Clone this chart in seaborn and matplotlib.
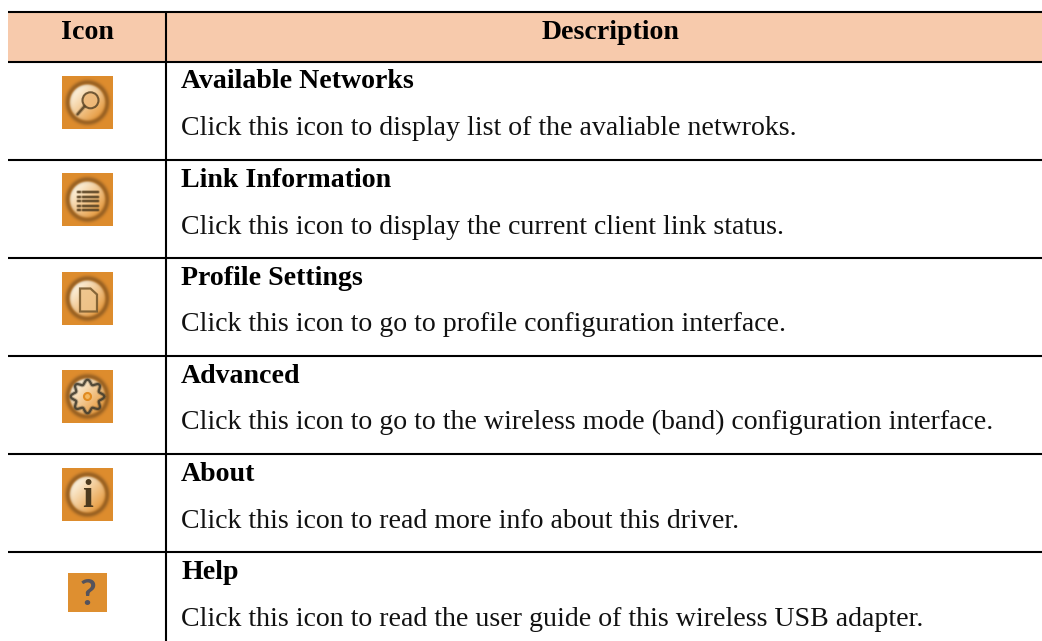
import numpy as np
import seaborn as sns
import matplotlib.pyplot as plt
from matplotlib.patches import Circle, Rectangle, Polygon

# Table content
HEADERS = ['Icon', 'Description']
TITLES = ['Available Networks', 'Link Information', 'Profile Settings',
          'Advanced', 'About', 'Help']
DESCRIPTIONS = [
    'Click this icon to display list of the avaliable netwroks.',
    'Click this icon to display the current client link status.',
    'Click this icon to go to profile configuration interface.',
    'Click this icon to go to the wireless mode (band) configuration interface.',
    'Click this icon to read more info about this driver.',
    'Click this icon to read the user guide of this wireless USB adapter.',
]
ICON_KINDS = ['search', 'list', 'page', 'gear', 'info', 'help']

# Layout in pixels of the page
ROW_EDGES = [12, 61.5, 160, 257.7, 355.7, 454, 552, 641]
ICON_CENTRES = [(87.5, 102.3), (87.5, 200), (87.5, 298.5), (87.5, 396.5), (87.5, 494.5), (87.5, 592.3)]
LEFT, SPLIT, RIGHT = 8, 166, 1042
HEADER_X = [87, 611]
ORANGE = np.array([0.87, 0.55, 0.18])
HEADER_FILL = '#f7caac'
DARK = '#5b4526'
FONT_SIZE = 20.1

sns.set_theme(style='white')
plt.rcParams['font.family'] = ['Liberation Serif', 'DejaVu Serif']

fig = plt.figure(figsize=(10.42, 6.41), dpi=100)
ax = fig.add_axes([0, 0, 1, 1])
ax.set_xlim(0, 1042)
ax.set_ylim(641, 0)
ax.axis('off')


def soft_line(xs, ys, width=1.6, color=DARK):
    # wide faint pass under a narrow one, the icons are blurry in the scan
    ax.plot(xs, ys, color=color, lw=width * 1.9, alpha=0.3, zorder=6, solid_capstyle='round')
    ax.plot(xs, ys, color=color, lw=width, alpha=0.85, zorder=6, solid_capstyle='round')


def draw_badge(cx, cy):
    yy, xx = np.mgrid[-26:26:105j, -25.5:25.5:103j]
    r = np.hypot(xx, yy)
    # cream on the upper left, orange to the lower right
    shade = np.clip((xx + yy + 24) / 48, 0, 1)[..., None]
    face = np.array([0.99, 0.95, 0.87]) + (np.array([0.91, 0.62, 0.27]) - np.array([0.99, 0.95, 0.87])) * shade
    inside = np.clip((19 - r) / 2, 0, 1)[..., None]
    ring = 0.7 * np.exp(-((r - 20) / 2.6) ** 2)[..., None]
    img = ORANGE * (1 - inside) + face * inside
    img = img * (1 - ring) + np.array([0.50, 0.32, 0.12]) * ring
    ax.imshow(img, extent=(cx - 25.5, cx + 25.5, cy + 26.5, cy - 26.5), zorder=3,
              aspect='auto', interpolation='bilinear')


def draw_icon(kind, cx, cy):
    if kind == 'help':
        ax.add_patch(Rectangle((cx - 19.5, cy - 19.5), 39, 39, color='#de8f30', lw=0, zorder=3))
        ax.text(cx, cy + 13, '?', color='#55535c', fontsize=26, fontweight='bold',
                family='Lato', ha='center', va='baseline', zorder=6)
        return
    draw_badge(cx, cy)
    if kind == 'search':
        ax.add_patch(Circle((cx + 3, cy - 2), 8, fc='#eeb878', ec=DARK, lw=1.5, alpha=0.85, zorder=6))
        soft_line([cx - 3, cx - 10], [cy + 4, cy + 12])
    elif kind == 'list':
        for offset in [-8, -3.5, 1, 5.5, 10]:
            soft_line([cx - 10, cx - 8], [cy + offset, cy + offset], 1.5)
            soft_line([cx - 5, cx + 10], [cy + offset, cy + offset], 1.5)
    elif kind == 'page':
        corners = [(-7.5, -10), (3, -10), (9.5, -4), (9.5, 13), (-7.5, 13)]
        ax.add_patch(Polygon([(cx + a, cy + b) for a, b in corners], fc='#eec48a', ec='#7a5c30',
                             lw=1.6, alpha=0.9, zorder=6))
    elif kind == 'gear':
        angles = np.linspace(0, 2 * np.pi, 145)
        radius = 14.5 + 2.2 * np.cos(8 * angles)
        soft_line(cx + radius * np.cos(angles), cy + radius * np.sin(angles), 1.6, '#3f3a2c')
        ax.add_patch(Circle((cx, cy), 3.5, fc='#f4b860', ec='#e08a20', lw=1.5, zorder=6))
    elif kind == 'info':
        ax.text(cx, cy + 12.5, 'i', color='#4c3a1e', fontsize=28, fontweight='bold',
                ha='center', va='baseline', zorder=6)


# Header band
ax.add_patch(Rectangle((LEFT, ROW_EDGES[0]), RIGHT - LEFT, ROW_EDGES[1] - ROW_EDGES[0],
                       color=HEADER_FILL, lw=0, zorder=1))
for label, x in zip(HEADERS, HEADER_X):
    ax.text(x, 39, label, fontsize=FONT_SIZE, fontweight='bold', ha='center', va='baseline', color='black')

# Rules
for edge in ROW_EDGES[:-1]:
    ax.plot([LEFT, RIGHT], [edge, edge], color='black', lw=1.5, solid_capstyle='butt', zorder=2)
ax.plot([SPLIT, SPLIT], [ROW_EDGES[0], ROW_EDGES[-1]], color='black', lw=1.5, solid_capstyle='butt', zorder=2)

# Rows
for i, (title, text) in enumerate(zip(TITLES, DESCRIPTIONS)):
    top = ROW_EDGES[i + 1]
    ax.text(181, top + 27, title, fontsize=FONT_SIZE, fontweight='bold', va='baseline', color='black')
    ax.text(181, top + 73.5, text, fontsize=FONT_SIZE, va='baseline', color='#111111')
    draw_icon(ICON_KINDS[i], *ICON_CENTRES[i])

ax.set_xlim(0, 1042)
ax.set_ylim(641, 0)
fig.savefig('out.png', dpi=100)
